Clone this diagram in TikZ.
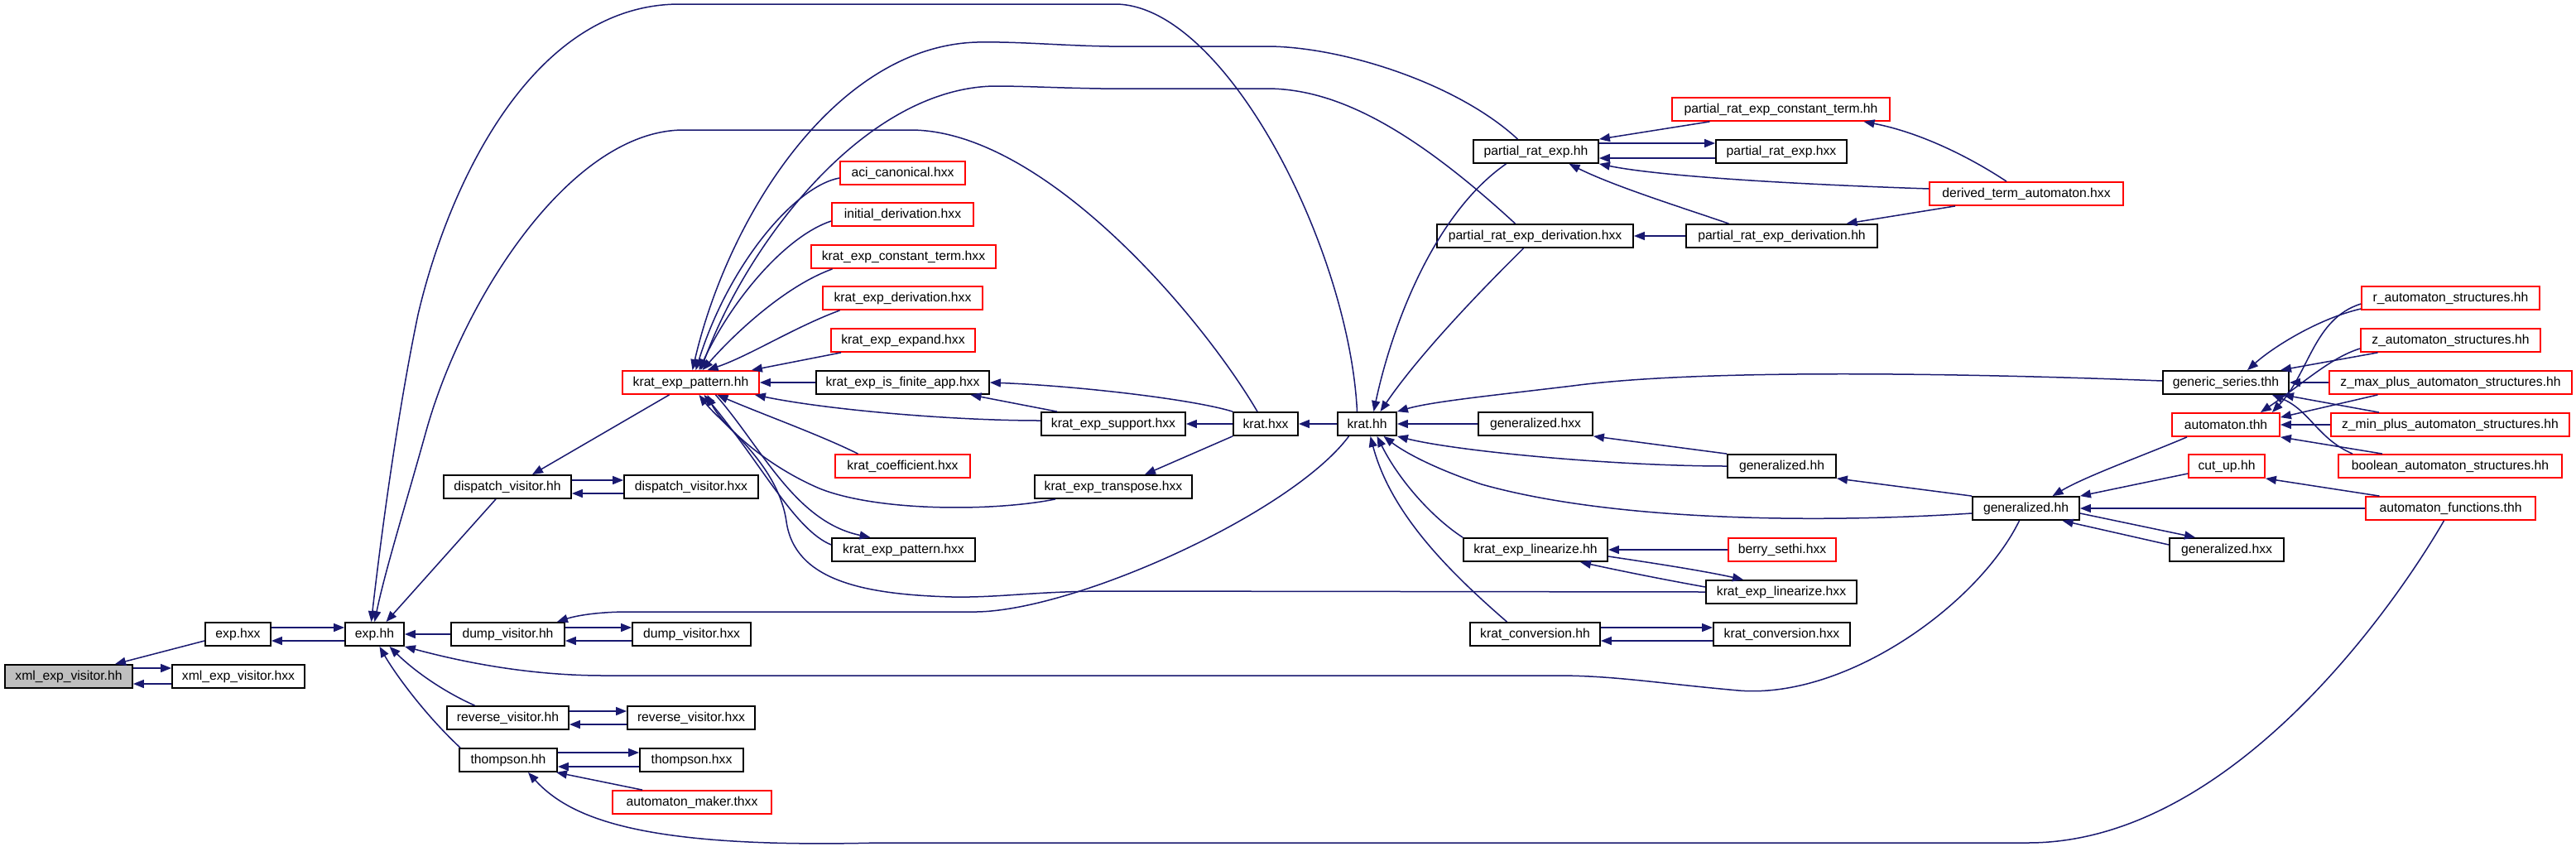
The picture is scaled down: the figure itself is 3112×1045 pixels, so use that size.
\documentclass[tikz,border=0pt]{standalone}
\usepackage{fontspec}
\setmainfont{Liberation Sans}
\usetikzlibrary{arrows.meta}
\definecolor{edgeblue}{HTML}{191970}
\definecolor{boxred}{HTML}{FF0000}
\definecolor{boxgray}{HTML}{BFBFBF}
\begin{document}
\begin{tikzpicture}[x=0.5pt,y=-0.5pt,
  nbox/.style={draw=black,line width=0.9pt,fill=white,minimum height=14pt,inner sep=0pt,
    font=\fontsize{7.85pt}{9pt}\selectfont,text=black},
  rbox/.style={nbox,draw=boxred},
  gbox/.style={nbox,fill=boxgray},
  bw/.style={minimum width=#1*0.5pt},
  edg/.style={draw=edgeblue,line width=0.75pt,-{Triangle[length=6.5pt,width=5pt]}}]
\useasboundingbox (0,0) rectangle (3112,1045);
\fill[white] (0,0) rectangle (3112,1045);
% nodes
\node[gbox,bw=154] (xmlhh) at (83,817) {xml\_exp\_visitor.hh};
\node[nbox,bw=160] (xmlhxx) at (288,817) {xml\_exp\_visitor.hxx};
\node[nbox,bw=79] (exphxx) at (287.5,766) {exp.hxx};
\node[nbox,bw=71] (exphh) at (452.5,766) {exp.hh};
\node[nbox,bw=137] (dumphh) at (613.5,766) {dump\_visitor.hh};
\node[nbox,bw=143] (dumphxx) at (835.5,766) {dump\_visitor.hxx};
\node[nbox,bw=147] (revhh) at (613.5,867) {reverse\_visitor.hh};
\node[nbox,bw=154] (revhxx) at (835,867) {reverse\_visitor.hxx};
\node[nbox,bw=118] (thhh) at (614,918) {thompson.hh};
\node[nbox,bw=125] (thhxx) at (835.5,918) {thompson.hxx};
\node[rbox,bw=192] (automaker) at (836,969) {automaton\_maker.thxx};
\node[nbox,bw=154] (disphh) at (613,588) {dispatch\_visitor.hh};
\node[nbox,bw=162] (disphxx) at (835,588) {dispatch\_visitor.hxx};
\node[rbox,bw=165] (kephh) at (834.5,462) {krat\_exp\_pattern.hh};
\node[rbox,bw=151] (aci) at (1090.5,209) {aci\_canonical.hxx};
\node[rbox,bw=171] (initder) at (1090.5,259) {initial\_derivation.hxx};
\node[rbox,bw=223] (kect) at (1091.5,310) {krat\_exp\_constant\_term.hxx};
\node[rbox,bw=193] (keder) at (1090.5,360) {krat\_exp\_derivation.hxx};
\node[rbox,bw=174] (keexp) at (1091,411) {krat\_exp\_expand.hxx};
\node[nbox,bw=209] (kefin) at (1090.5,462) {krat\_exp\_is\_finite\_app.hxx};
\node[rbox,bw=163] (kcoef) at (1090.5,563) {krat\_coefficient.hxx};
\node[nbox,bw=173] (kephxx) at (1091.5,664) {krat\_exp\_pattern.hxx};
\node[nbox,bw=174] (kesup) at (1345,512) {krat\_exp\_support.hxx};
\node[nbox,bw=190] (ketrans) at (1345,588) {krat\_exp\_transpose.hxx};
\node[nbox,bw=78] (krathxx) at (1529,512) {krat.hxx};
\node[nbox,bw=71] (krathh) at (1651.5,512) {krat.hh};
\node[nbox,bw=151] (prehh) at (1855.5,183) {partial\_rat\_exp.hh};
\node[nbox,bw=158] (prehxx) at (2152,183) {partial\_rat\_exp.hxx};
\node[rbox,bw=263] (prect) at (2151.5,132) {partial\_rat\_exp\_constant\_term.hh};
\node[rbox,bw=234] (dta) at (2448,234) {derived\_term\_automaton.hxx};
\node[nbox,bw=237] (predhxx) at (1854.5,285) {partial\_rat\_exp\_derivation.hxx};
\node[nbox,bw=231] (predhh) at (2152.5,285) {partial\_rat\_exp\_derivation.hh};
\node[nbox,bw=138] (genhxx1) at (1855,512) {generalized.hxx};
\node[nbox,bw=131] (genhh1) at (2152.5,563) {generalized.hh};
\node[nbox,bw=174] (kelinhh) at (1855,664) {krat\_exp\_linearize.hh};
\node[rbox,bw=130] (berry) at (2153,664) {berry\_sethi.hxx};
\node[nbox,bw=182] (kelinhxx) at (2152,715) {krat\_exp\_linearize.hxx};
\node[nbox,bw=157] (kconvhh) at (1854.5,766) {krat\_conversion.hh};
\node[nbox,bw=165] (kconvhxx) at (2152.5,766) {krat\_conversion.hxx};
\node[nbox,bw=152] (genser) at (2689,462) {generic\_series.thh};
\node[rbox,bw=130] (autothh) at (2689,513) {automaton.thh};
\node[rbox,bw=92] (cutup) at (2690,563) {cut\_up.hh};
\node[nbox,bw=129] (genhh2) at (2447.5,614) {generalized.hh};
\node[nbox,bw=138] (genhxx2) at (2690,664) {generalized.hxx};
\node[rbox,bw=205] (autofun) at (2960.5,614) {automaton\_functions.thh};
\node[rbox,bw=215] (rauto) at (2960.5,360) {r\_automaton\_structures.hh};
\node[rbox,bw=217] (zauto) at (2960.5,411) {z\_automaton\_structures.hh};
\node[rbox,bw=293] (zmax) at (2960.5,462) {z\_max\_plus\_automaton\_structures.hh};
\node[rbox,bw=288] (zmin) at (2960,513) {z\_min\_plus\_automaton\_structures.hh};
\node[rbox,bw=270] (bool) at (2960,563) {boolean\_automaton\_structures.hh};
% left part
\draw[edg] ([yshift=-4pt]exphxx.west) -- ([xshift=28pt]xmlhh.north);
\draw[edg] ([yshift=5pt]xmlhh.east) -- ([yshift=5pt]xmlhxx.west);
\draw[edg] ([yshift=-4.5pt]xmlhxx.west) -- ([yshift=-4.5pt]xmlhh.east);
\draw[edg] ([yshift=4pt]exphxx.east) -- ([yshift=4pt]exphh.west);
\draw[edg] ([yshift=-4pt]exphh.west) -- ([yshift=-4pt]exphxx.east);
\draw[edg] (dumphh) -- (exphh);
\draw[edg] ([yshift=4pt]dumphh.east) -- ([yshift=4pt]dumphxx.west);
\draw[edg] ([yshift=-4pt]dumphxx.west) -- ([yshift=-4pt]dumphh.east);
\draw[edg] ([xshift=-20pt]revhh.north) .. controls (535,835) and (500,810) .. ([xshift=9pt]exphh.south);
\draw[edg] ([yshift=4pt]revhh.east) -- ([yshift=4pt]revhxx.west);
\draw[edg] ([yshift=-4pt]revhxx.west) -- ([yshift=-4pt]revhh.east);
\draw[edg] ([xshift=-29pt]thhh.north) .. controls (510,860) and (475,810) .. ([xshift=3pt]exphh.south);
\draw[edg] ([yshift=4.5pt]thhh.east) -- ([yshift=4.5pt]thhxx.west);
\draw[edg] ([yshift=-4pt]thhxx.west) -- ([yshift=-4pt]thhh.east);
\draw[edg] ([xshift=-30pt]automaker.north) -- ([xshift=29pt]thhh.south);
\draw[edg] ([xshift=-4pt]autofun.south) .. controls (2900,720) and (2700,1018) .. (2450,1018) -- (1060,1018) .. controls (780,1025) and (690,990) .. ([xshift=12pt]thhh.south);
\draw[edg] ([xshift=-4pt]genhh2.south) .. controls (2390,730) and (2230,845) .. (2100,834) .. controls (2000,825) and (1950,816) .. (1880,816) -- (730,816) .. controls (640,816) and (560,800) .. (exphh.south east);
\draw[edg] ([xshift=-7pt]disphh.south) -- ([xshift=7pt]exphh.north);
\draw[edg] ([xshift=-6pt]krathh.north) .. controls (1630,300) and (1480,5) .. (1347,5) -- (821,5) .. controls (640,5) and (540,230) .. (505,380) .. controls (480,500) and (460,650) .. ([xshift=-2pt]exphh.north);
\draw[edg] ([xshift=-5pt]krathxx.north) .. controls (1450,380) and (1260,157) .. (1100,157) -- (826,157) .. controls (690,157) and (560,360) .. (515,520) .. controls (490,610) and (465,690) .. (exphh.north);
\draw[edg] ([yshift=4pt]disphh.east) -- ([yshift=4pt]disphxx.west);
\draw[edg] ([yshift=-4pt]disphxx.west) -- ([yshift=-4pt]disphh.east);
\draw[edg] ([xshift=-13pt]kephh.south) -- ([xshift=15pt]disphh.north);
% into krat_exp_pattern.hh
\draw[edg] ([yshift=-3pt]aci.west) .. controls (960,225) and (880,320) .. ([xshift=3pt]kephh.north);
\draw[edg] ([yshift=-4pt]initder.west) .. controls (950,285) and (885,360) .. ([xshift=5pt]kephh.north);
\draw[edg] ([xshift=-43pt]kect.south) .. controls (950,345) and (890,400) .. ([xshift=7pt]kephh.north);
\draw[edg] ([xshift=-38pt]keder.south) .. controls (960,395) and (905,430) .. ([xshift=10pt]kephh.north);
\draw[edg] ([xshift=-37.5pt]keexp.south) -- ([xshift=-5pt]kephh.north east);
\draw[edg] (kefin) -- (kephh);
\draw[edg] ([yshift=2pt]kesup.west) .. controls (1150,508) and (1000,495) .. ([xshift=-3pt]kephh.south east);
\draw[edg] ([xshift=-27pt]kcoef.north) .. controls (990,525) and (920,500) .. ([xshift=16pt]kephh.south);
\draw[edg] ([xshift=-35pt]ketrans.south) .. controls (1200,618) and (1060,618) .. (990,590) .. controls (920,560) and (870,510) .. ([xshift=10pt]kephh.south);
\draw[edg] ([xshift=15pt]kephh.south) .. controls (920,540) and (960,630) .. ([xshift=-20pt]kephxx.north);
\draw[edg] ([yshift=3pt]kephxx.west) .. controls (960,640) and (920,560) .. ([xshift=8pt]kephh.south);
\draw[edg] (kelinhxx.west) -- (1340,714) .. controls (1250,714) and (1210,722) .. (1150,721) .. controls (1040,718) and (960,700) .. (950,630) .. controls (940,560) and (870,510) .. ([xshift=5pt]kephh.south);
\draw[edg] ([xshift=-11pt]prehh.north) .. controls (1760,100) and (1620,56) .. (1530,56) -- (1340,56) .. controls (1280,55) and (1230,50) .. (1180,51) .. controls (1010,56) and (880,260) .. ([xshift=1pt]kephh.north);
\draw[edg] ([xshift=-12pt]predhxx.north) .. controls (1700,150) and (1610,107) .. (1530,107) -- (1330,107) .. controls (1270,106) and (1240,104) .. (1200,104) .. controls (1040,108) and (900,300) .. ([xshift=6pt]kephh.north);
% krat.hxx
\draw[edg] ([xshift=-34pt]kesup.north) -- ([xshift=41pt]kefin.south);
\draw[edg] (krathxx.north west) .. controls (1440,482) and (1300,466) .. (kefin.east);
\draw[edg] (krathxx) -- (kesup);
\draw[edg] (krathh) -- (krathxx);
\draw[edg] (krathxx.south west) -- ([xshift=19pt]ketrans.north);
% krat.hh
\draw[edg] (genhxx1) -- (krathh);
\draw[edg] ([yshift=1pt]genser.west) .. controls (2350,450) and (2050,446) .. (1900,466) .. controls (1800,478) and (1730,485) .. (krathh.north east);
\draw[edg] (genhh1.west) .. controls (1950,563) and (1760,545) .. (krathh.south east);
\draw[edg] ([yshift=-3pt]genhh2.west) .. controls (2200,632) and (1950,630) .. (1790,585) .. controls (1730,565) and (1695,545) .. ([xshift=10pt]krathh.south);
\draw[edg] (kelinhh.north west) .. controls (1730,625) and (1690,580) .. ([xshift=6pt]krathh.south);
\draw[edg] ([xshift=-17pt]kconvhh.north) .. controls (1750,690) and (1680,620) .. ([xshift=2pt]krathh.south);
\draw[edg] ([xshift=-11pt]krathh.south) .. controls (1560,620) and (1300,737) .. (1180,739) -- (760,739) .. controls (720,739) and (695,744) .. ([xshift=-5pt]dumphh.north east);
\draw[edg] ([xshift=-18pt]prehh.south) .. controls (1730,260) and (1680,400) .. ([xshift=4pt]krathh.north);
\draw[edg] ([xshift=-7pt]predhxx.south) .. controls (1810,330) and (1720,420) .. ([xshift=8pt]krathh.north);
% partial cluster
\draw[edg] ([xshift=-43pt]prect.south) -- (prehh.north east);
\draw[edg] ([yshift=5pt]prehh.east) -- ([yshift=5pt]prehxx.west);
\draw[edg] ([yshift=-4pt]prehxx.west) -- ([yshift=-4pt]prehh.east);
\draw[edg] ([yshift=3pt]dta.west) .. controls (2150,222) and (2000,212) .. (prehh.south east);
\draw[edg] ([xshift=-32pt]predhh.north) .. controls (2030,250) and (1950,225) .. ([xshift=20pt]prehh.south);
\draw[edg] (predhh) -- (predhxx);
\draw[edg] ([xshift=-43pt]dta.south) -- ([xshift=39pt]predhh.north);
\draw[edg] ([xshift=-12pt]dta.north) .. controls (2380,190) and (2320,160) .. ([xshift=50pt]prect.south);
% middle cluster
\draw[edg] (genhh1.north west) -- (genhxx1.south east);
\draw[edg] (berry) -- (kelinhh);
\draw[edg] ([yshift=-4pt]kelinhh.east) .. controls (2010,682) and (2060,690) .. ([xshift=-23pt]kelinhxx.north);
\draw[edg] ([yshift=3pt]kelinhxx.west) .. controls (2010,700) and (1960,690) .. ([xshift=27pt]kelinhh.south);
\draw[edg] ([yshift=4pt]kconvhh.east) -- ([yshift=4pt]kconvhxx.west);
\draw[edg] ([yshift=-4pt]kconvhxx.west) -- ([yshift=-4pt]kconvhh.east);
\draw[edg] (genhh2.north west) -- (genhh1.south east);
% right cluster
\draw[edg] ([yshift=-6.5pt]rauto.west) .. controls (2800,385) and (2745,420) .. ([xshift=13pt]genser.north);
\draw[edg] ([xshift=-44pt]zauto.south) -- ([xshift=33pt]genser.north);
\draw[edg] (zmax) -- (genser);
\draw[edg] ([xshift=-43pt]zmin.north) -- ([xshift=-4pt]genser.south east);
\draw[edg] ([xshift=-59pt]bool.north) .. controls (2800,530) and (2790,495) .. ([xshift=28pt]genser.south);
\draw[edg] ([yshift=-3.5pt]rauto.west) .. controls (2795,385) and (2790,450) .. ([xshift=-5pt]autothh.north east);
\draw[edg] ([yshift=-5pt]zauto.west) .. controls (2815,432) and (2780,465) .. ([xshift=-12pt]autothh.north east);
\draw[edg] ([xshift=-44pt]zmax.south) -- ([yshift=-3pt]autothh.north east);
\draw[edg] (zmin) -- (autothh);
\draw[edg] ([xshift=-41pt]bool.north) -- (autothh.south east);
\draw[edg] ([xshift=-23.5pt]autothh.south) .. controls (2590,550) and (2520,575) .. ([xshift=16pt]genhh2.north);
\draw[edg] ([yshift=-4.5pt]cutup.west) -- (genhh2.north east);
\draw[edg] (autofun) -- (genhh2);
\draw[edg] ([xshift=-43pt]autofun.north) -- (cutup.south east);
\draw[edg] ([yshift=-3pt]genhh2.east) -- ([xshift=-19pt]genhxx2.north);
\draw[edg] ([yshift=3pt]genhxx2.west) -- ([xshift=22pt]genhh2.south);
\end{tikzpicture}
\end{document}
